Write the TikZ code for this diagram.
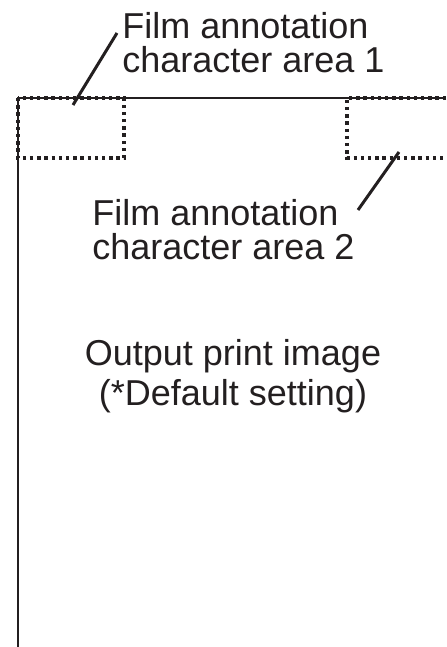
\documentclass[tikz,border=0pt]{standalone}
\usepackage{fontspec}
\setmainfont{Liberation Sans}
\usetikzlibrary{positioning}
\definecolor{ink}{HTML}{231F20}
\tikzset{
  frameline/.style={draw=ink,line width=1.2pt},
  areabox/.style={draw=ink,line width=1.6pt,dash pattern=on 1.7pt off 1.9pt},
  leader/.style={draw=ink,line width=1.5pt},
  caption/.style={font=\fontsize{18}{17}\selectfont,text=ink,
                  inner sep=0pt,align=left},
  mainlabel/.style={font=\fontsize{18}{20}\selectfont,text=ink,
                    inner sep=0pt,align=center}
}

\begin{document}
\begin{tikzpicture}[x=0.5pt,y=-0.5pt]
  \useasboundingbox (0,0) rectangle (446,647);
  % print frame: only the left and top edges are seen
  \coordinate (corner) at (18,98);
  \coordinate (bottom) at (18,647);
  \coordinate (right) at (446,98);
  \draw[frameline] (bottom) -- (corner) -- (right);

  % dotted character areas
  \draw[areabox] (corner) rectangle (124,158);
  \draw[areabox] (right) -- (347,98) -- (347,158) -- (450,158);

  % texts
  \node[caption,anchor=north west] (area1) at (122,12)
    {Film annotation\\character area 1};
  \node[caption,anchor=north west] (area2) at (92,199)
    {Film annotation\\character area 2};
  \node[mainlabel,anchor=north] (output) at (233,339)
    {Output print image\\(*Default setting)};

  % leader lines
  \coordinate (tip1) at (73,105);
  \coordinate (end1) at (117,33);
  \coordinate (tip2) at (399,152);
  \coordinate (end2) at (358,210);
  \draw[leader] (tip1) -- (end1);
  \draw[leader] (tip2) -- (end2);
\end{tikzpicture}
\end{document}
